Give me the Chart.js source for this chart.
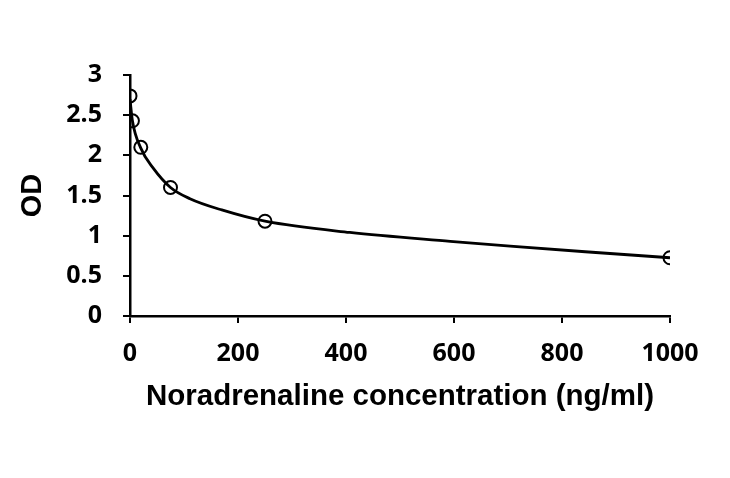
<!DOCTYPE html>
<html>
<head>
<meta charset="utf-8">
<script src="https://cdn.jsdelivr.net/npm/chart.js@4"></script>
<style>
  html, body { margin: 0; padding: 0; background: #fff; }
  #wrap { width: 730px; height: 478px; }
</style>
</head>
<body>
<div id="wrap"><canvas id="chart" width="730" height="478"></canvas></div>
<script>
// Standard points (concentration ng/ml, OD)
const concentrations = [0, 4.5, 20, 75, 250, 1000];
const odValues = [2.74, 2.43, 2.10, 1.60, 1.18, 0.725];

// Fitted curve
const curveX = [0, 4.5, 20, 43, 75, 111, 170, 250, 407, 593, 704, 843, 1000];
const curveY = [2.70, 2.43, 2.09, 1.84, 1.60, 1.46, 1.32, 1.18, 1.04, 0.93, 0.87, 0.80, 0.725];

const xTicks = [0, 200, 400, 600, 800, 1000];
const yTicks = [0, 0.5, 1, 1.5, 2, 2.5, 3];

const tickFont = { family: 'Open Sans', size: 25, weight: '700' };
const titleFont = { family: 'Liberation Sans', size: 29.5, weight: 'bold' };

const points = concentrations.map((c, i) => ({ x: c, y: odValues[i] }));
const curve = curveX.map((c, i) => ({ x: c, y: curveY[i] }));

new Chart(document.getElementById('chart'), {
    type: 'scatter',
    data: {
        datasets: [
            {
                label: 'Fit',
                type: 'line',
                data: curve,
                borderColor: '#000',
                borderWidth: 2.8,
                pointRadius: 0,
                fill: false,
                cubicInterpolationMode: 'monotone',
                order: 2
            },
            {
                label: 'Standards',
                data: points,
                borderColor: '#000',
                backgroundColor: 'rgba(0,0,0,0)',
                borderWidth: 2,
                pointRadius: 6.5,
                order: 1
            }
        ]
    },
    options: {
        responsive: false,
        animation: false,
        layout: { padding: { top: 75, right: 60, bottom: 0, left: 0 } },
        plugins: {
            legend: { display: false },
            tooltip: { enabled: false }
        },
        scales: {
            x: {
                type: 'linear',
                min: 0,
                max: 1000,
                afterBuildTicks: axis => { axis.ticks = xTicks.map(v => ({ value: v })); },
                afterFit: axis => { axis.height = 162; },
                border: { display: true, color: '#000', width: 2.5 },
                grid: { drawOnChartArea: false, drawTicks: true, tickLength: 7, color: '#000', lineWidth: 2 },
                ticks: { color: '#000', font: tickFont, padding: 16, maxRotation: 0, callback: v => String(v) },
                title: {
                    display: true,
                    text: 'Noradrenaline concentration (ng/ml)',
                    color: '#000',
                    font: titleFont,
                    padding: { top: 0, bottom: 63 }
                }
            },
            y: {
                type: 'linear',
                min: 0,
                max: 3,
                afterBuildTicks: axis => { axis.ticks = yTicks.map(v => ({ value: v })); },
                afterFit: axis => { axis.width = 130; },
                border: { display: true, color: '#000', width: 2.5 },
                grid: { drawOnChartArea: false, drawTicks: true, tickLength: 7, color: '#000', lineWidth: 2 },
                ticks: { color: '#000', font: tickFont, padding: 21, callback: v => String(v) },
                title: {
                    display: true,
                    text: 'OD',
                    color: '#000',
                    font: { family: 'Liberation Sans', size: 29, weight: 'bold' },
                    padding: { top: 16, bottom: 0 }
                }
            }
        }
    }
});
</script>
</body>
</html>
